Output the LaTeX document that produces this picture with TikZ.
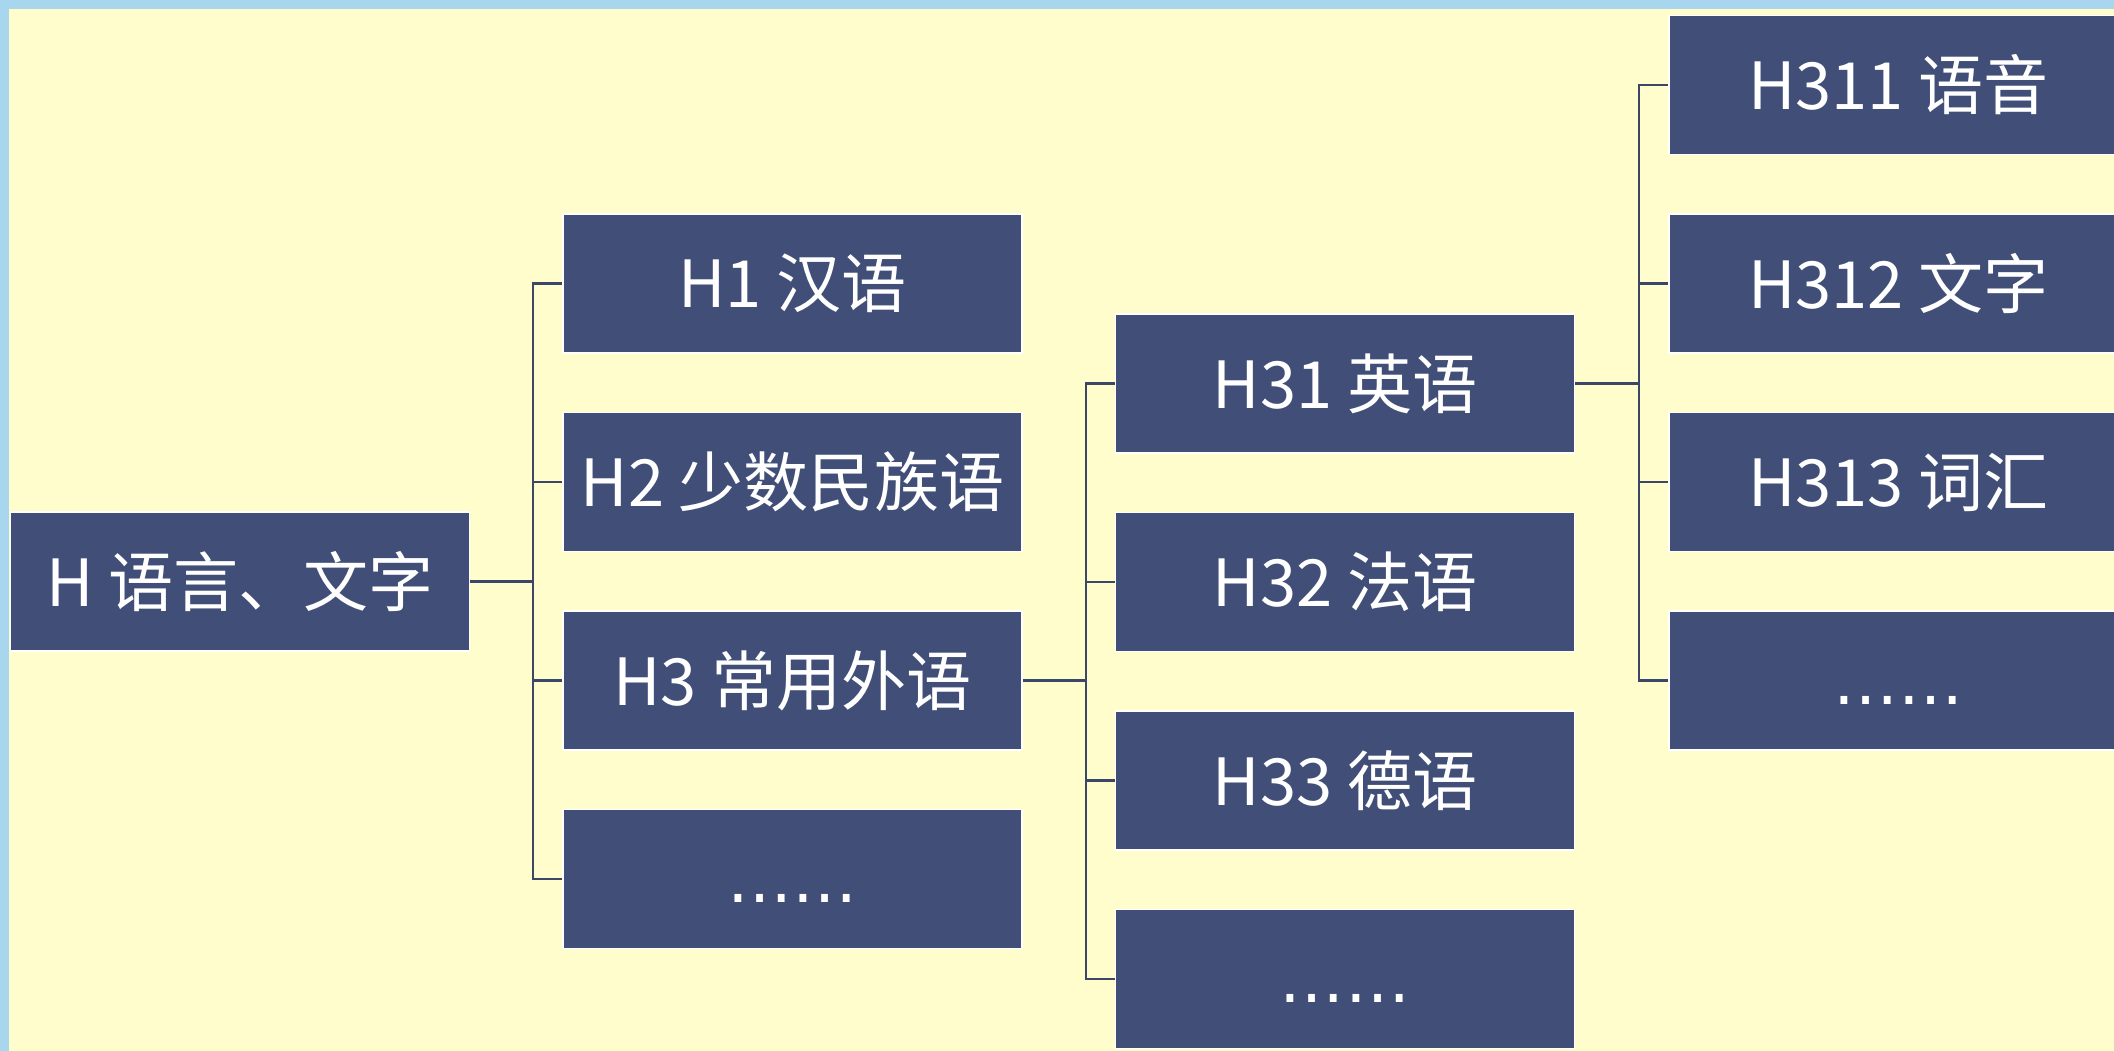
\documentclass[tikz,border=0pt]{standalone}
\usepackage{fontspec}
\setmainfont{Noto Sans CJK SC}
\newfontfamily\dotfont{DejaVu Sans}
\definecolor{bgyellow}{HTML}{FFFDCC}
\definecolor{frameblue}{HTML}{A9D6EF}
\definecolor{boxnavy}{HTML}{414F78}
\definecolor{linenavy}{HTML}{3B4669}
\newcommand{\moredots}{\vphantom{H}{\dotfont ……}}
\begin{document}
\begin{tikzpicture}[x=0.01cm,y=-0.01cm]
\tikzstyle{every node}+=[inner sep=0pt]
\tikzstyle{box}=[draw=white, line width=0.45pt, fill=boxnavy, text=white,
  minimum width=4.59cm, minimum height=1.39cm,
  font=\fontsize{18.5pt}{22pt}\selectfont]
\tikzstyle{conn}=[draw=linenavy, line width=0.7pt]
\useasboundingbox (0,0) rectangle (2114,1051);
\clip (0,0) rectangle (2114,1051);
\fill [frameblue] (0,0) rectangle (2114,1051);
\fill [bgyellow] (9,9) rectangle (2114,1051);
% root
\node [box] (h) at (240,581.5) {H 语言、文字};
% first level
\node [box] (h1) at (792.5,283.5) {H1 汉语};
\node [box] (h2) at (792.5,482) {H2 少数民族语};
\node [box] (h3) at (792.5,680.5) {H3 常用外语};
\node [box] (hx) at (792.5,879) {\moredots};
% second level
\node [box] (h31) at (1345,383.5) {H31 英语};
\node [box] (h32) at (1345,582) {H32 法语};
\node [box] (h33) at (1345,780.5) {H33 德语};
\node [box] (h3x) at (1345,979) {\moredots};
% third level
\node [box] (h311) at (1898.5,85) {H311 语音};
\node [box] (h312) at (1898.5,283.5) {H312 文字};
\node [box] (h313) at (1898.5,482) {H313 词汇};
\node [box] (h31x) at (1898.5,680.5) {\moredots};
% connectors
\coordinate (bh) at (533,581.5);
\coordinate (bh3) at (1086,680.5);
\coordinate (bh31) at (1639,383.5);
\draw [conn] (h.east) -- (bh);
\foreach \n in {h1,h2,h3,hx} \draw [conn] (bh) |- (\n.west);
\draw [conn] (h3.east) -- (bh3);
\foreach \n in {h31,h32,h33,h3x} \draw [conn] (bh3) |- (\n.west);
\draw [conn] (h31.east) -- (bh31);
\foreach \n in {h311,h312,h313,h31x} \draw [conn] (bh31) |- (\n.west);
\end{tikzpicture}
\end{document}
